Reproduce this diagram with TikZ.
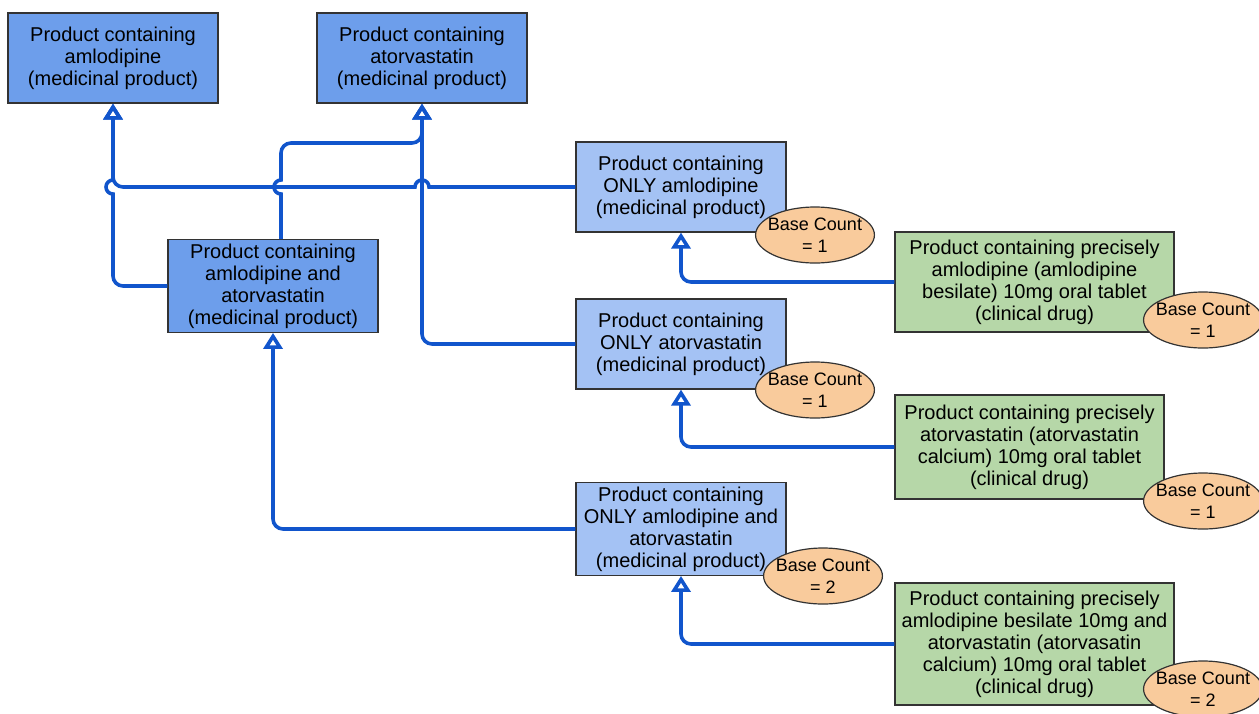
\documentclass[tikz,border=0pt]{standalone}
\usepackage{fontspec}
\setmainfont{Liberation Sans}
\usepackage{xcolor}
\usepackage{tikz}
\usetikzlibrary{arrows.meta, shapes.geometric}
\definecolor{medblue}{HTML}{6D9EEB}
\definecolor{onlyblue}{HTML}{A4C2F4}
\definecolor{drugreen}{HTML}{B6D7A8}
\definecolor{countorange}{HTML}{F9CB9C}
\definecolor{linkblue}{HTML}{1155CC}

\tikzset{
  concept/.style={draw=black!80, line width=0.6pt, align=center, inner sep=2pt,
    font=\fontsize{10}{11}\selectfont, minimum width=105pt, minimum height=45pt},
  medprod/.style={concept, fill=medblue},
  onlyprod/.style={concept, fill=onlyblue},
  clindrug/.style={concept, fill=drugreen, minimum width=139.5pt, minimum height=50pt},
  basecount/.style={ellipse, draw=black!80, line width=0.6pt, fill=countorange,
    inner xsep=-2.5pt, inner ysep=0pt, align=center, font=\fontsize{9}{11}\selectfont,
    minimum width=59pt, minimum height=28pt},
  link/.style={draw=linkblue, line width=1.8pt, rounded corners=5pt,
    -{Triangle[open, length=8pt, width=9.5pt, sharp]}}
}

\begin{document}
\begin{tikzpicture}[x=0.5pt, y=-0.5pt]
  \useasboundingbox (0,0) rectangle (1259,713);

  % medicinal products
  \node[medprod] (amlo) at (113,58) {Product containing\\amlodipine\\(medicinal product)};
  \node[medprod] (atorva) at (422,58) {Product containing\\atorvastatin\\(medicinal product)};
  \node[medprod] (amlatv) at (273,286) {Product containing\\amlodipine and\\atorvastatin\\(medicinal product)};

  % ONLY products
  \node[onlyprod] (onlyamlo) at (681,187) {Product containing\\ONLY amlodipine\\(medicinal product)};
  \node[onlyprod] (onlyatv) at (681,344) {Product containing\\ONLY atorvastatin\\(medicinal product)};
  \node[onlyprod] (onlyboth) at (681,529) {Product containing\\ONLY amlodipine and\\atorvastatin\\(medicinal product)};

  % clinical drugs
  \node[clindrug] (cdamlo) at (1034.5,282) {Product containing precisely\\amlodipine (amlodipine\\besilate) 10mg oral tablet\\(clinical drug)};
  \node[clindrug, minimum width=134.5pt, minimum height=52pt] (cdatv) at (1029.5,447) {Product containing precisely\\atorvastatin (atorvastatin\\calcium) 10mg oral tablet\\(clinical drug)};
  \node[clindrug, minimum height=61pt] (cdboth) at (1034.5,644) {Product containing precisely\\amlodipine besilate 10mg and\\atorvastatin (atorvasatin\\calcium) 10mg oral tablet\\(clinical drug)};

  % base counts
  \node[basecount] (bcamlo) at (815,235) {Base Count\\= 1};
  \node[basecount] (bcatv) at (815,390) {Base Count\\= 1};
  \node[basecount] (bcboth) at (823,576) {Base Count\\= 2};
  \node[basecount] (bccdamlo) at (1203,320) {Base Count\\= 1};
  \node[basecount] (bccdatv) at (1203,501) {Base Count\\= 1};
  \node[basecount] (bccdboth) at (1203,689) {Base Count\\= 2};

  % crossing points
  \coordinate (hopA) at (amlo.south |- onlyamlo.west);
  \coordinate (hopB) at ([xshift=4pt]amlatv.north |- onlyamlo.west);
  \coordinate (hopC) at (atorva.south |- onlyamlo.west);

  % is-a links
  \draw[link] (amlatv.west) -| ([yshift=-15pt]hopA)
    [sharp corners] -- ([yshift=-3.5pt]hopA) arc[start angle=270, end angle=90, radius=3.5pt] -- (amlo.south);
  \draw[link, sharp corners] ([xshift=4pt]amlatv.north) -- ([yshift=-3.5pt]hopB)
    arc[start angle=270, end angle=90, radius=3.5pt] -- ([yshift=3.5pt]hopB)
    [rounded corners=5pt] -- ([yshift=22pt]hopB) -| (atorva.south);
  \draw[link, sharp corners] (onlyamlo.west) -- ([xshift=3.5pt]hopC)
    arc[start angle=0, end angle=180, radius=3.5pt] -- ([xshift=-3.5pt]hopC)
    [rounded corners=5pt] -| (amlo.south);
  \draw[link] (onlyatv.west) -| (atorva.south);
  \draw[link] (onlyboth.west) -| (amlatv.south);
  \draw[link] (cdamlo.west) -| (onlyamlo.south);
  \draw[link] (cdatv.west) -| (onlyatv.south);
  \draw[link] (cdboth.west) -| (onlyboth.south);
\end{tikzpicture}
\end{document}
